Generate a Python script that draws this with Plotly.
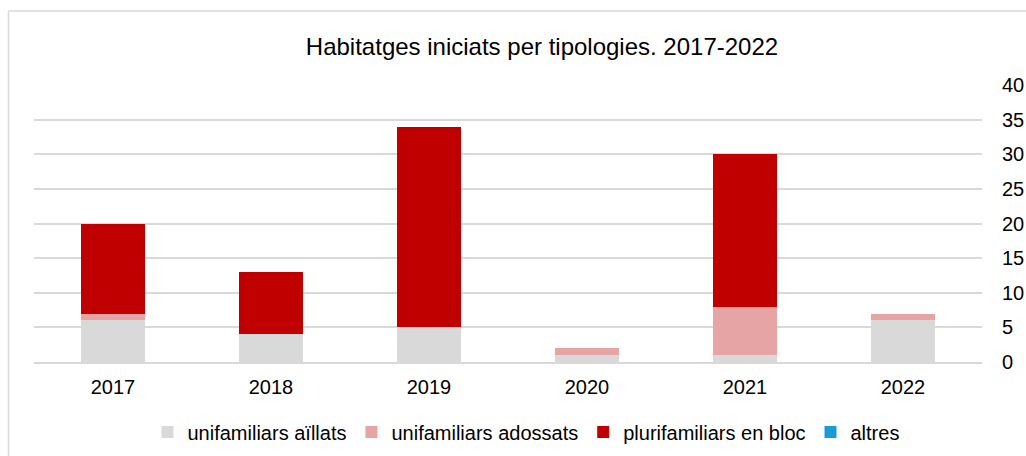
import plotly.graph_objects as go

years = ["2017", "2018", "2019", "2020", "2021", "2022"]
aillats = [6, 4, 5, 1, 1, 6]
adossats = [1, 0, 0, 1, 7, 1]
plurifamiliars = [13, 9, 29, 0, 22, 0]
altres = [0, 0, 0, 0, 0, 0]

series = [
    ("unifamiliars aïllats", aillats, "#d9d9d9"),
    ("unifamiliars adossats", adossats, "#e6a4a4"),
    ("plurifamiliars en bloc", plurifamiliars, "#c00000"),
    ("altres", altres, "#1a9bd7"),
]

W, H = 1026, 456
ml, mr, mt, mb = 34, 44, 85, 94
pw, ph = W - ml - mr, H - mt - mb

fig = go.Figure()
for name, vals, col in series:
    fig.add_trace(go.Bar(x=years, y=vals, name=name, marker=dict(color=col, line=dict(width=0)),
                         hoverinfo="x+y+name"))

fig.update_layout(
    width=W, height=H,
    barmode="stack", bargap=0.595,
    paper_bgcolor="white", plot_bgcolor="white",
    margin=dict(l=ml, r=mr, t=mt, b=mb, pad=0, autoexpand=False),
    font=dict(family="Liberation Sans, Arial, sans-serif", size=20, color="#000000"),
    title=dict(text="Habitatges iniciats per tipologies. 2017-2022", x=542 / W, xanchor="center",
               xref="container", y=1 - 47 / H, yanchor="middle", font=dict(size=24, color="#000000")),
    xaxis=dict(type="category", showgrid=False, showline=True, linecolor="#d9d9d9", linewidth=1.5,
               ticks="", tickfont=dict(size=20), ticklabelstandoff=6),
    yaxis=dict(side="right", range=[0, 40], dtick=5, showgrid=True, gridcolor="#d9d9d9", gridwidth=1.5,
               zeroline=False, showline=False, ticks="", tickfont=dict(size=20), ticklabelstandoff=19),
    legend=dict(orientation="h", x=(526 - ml) / pw, xanchor="center", y=-(432 - 362) / ph, yanchor="middle",
                font=dict(size=20), itemwidth=30, traceorder="normal", tracegroupgap=0),
    showlegend=True,
    shapes=[
        dict(type="line", xref="paper", yref="paper",
             x0=(8.5 - ml) / pw, x1=(W + 10 - ml) / pw,
             y0=1 + (mt - 11) / ph, y1=1 + (mt - 11) / ph,
             line=dict(color="#d9d9d9", width=1.5)),
        dict(type="line", xref="paper", yref="paper",
             x0=(8.5 - ml) / pw, x1=(8.5 - ml) / pw,
             y0=1 + (mt - 11) / ph, y1=-(mb + 10) / ph,
             line=dict(color="#d9d9d9", width=1.5)),
    ],
)

fig.write_html("out.html")
